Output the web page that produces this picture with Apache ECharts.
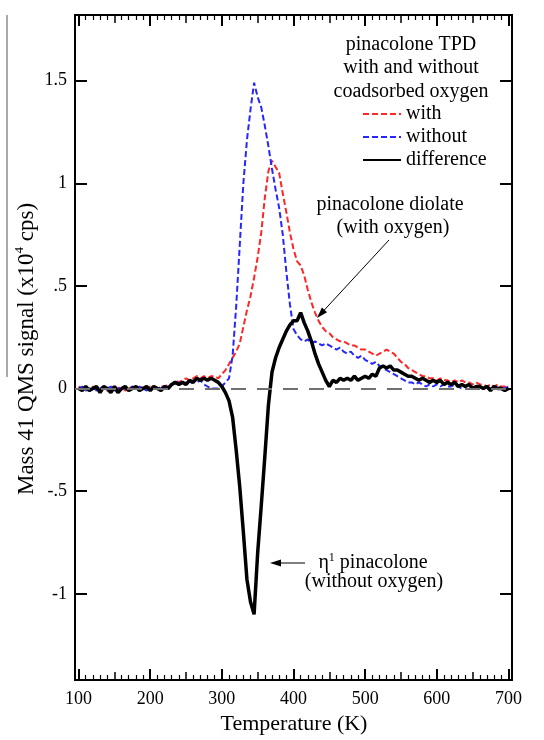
<!DOCTYPE html>
<html><head><meta charset="utf-8">
<script src="https://cdn.jsdelivr.net/npm/echarts@6/dist/echarts.min.js"></script>
<style>html,body{margin:0;padding:0;background:#fff}#c{width:544px;height:740px}</style>
</head><body><div id="c"></div>
<script>
// ---- data (Temperature in K, signal in 10^4 cps) ----
const temperatures = [
100,105,110,115,120,125,130,135,140,145,
150,155,160,165,170,175,180,185,190,195,
200,205,210,215,220,225,230,235,240,245,
250,255,260,265,270,275,280,285,290,295,
300,305,310,315,320,325,330,335,340,345,
350,355,360,365,370,375,380,385,390,395,
400,405,410,415,420,425,430,435,440,445,
450,455,460,465,470,475,480,485,490,495,
500,505,510,515,520,525,530,535,540,545,
550,555,560,565,570,575,580,585,590,595,
600,605,610,615,620,625,630,635,640,645,
650,655,660,665,670,675,680,685,690,695,
700];
const withOxygen = [
0.01,0.00,0.01,-0.01,0.01,0.00,0.00,0.01,-0.01,0.00,
0.01,0.00,0.01,-0.01,0.00,0.01,0.00,0.00,0.01,0.00,
0.01,0.01,0.00,0.01,0.01,0.02,0.02,0.04,0.03,0.04,
0.05,0.04,0.05,0.06,0.05,0.06,0.05,0.06,0.06,0.05,
0.07,0.09,0.12,0.15,0.18,0.22,0.30,0.38,0.45,0.54,
0.64,0.76,0.93,1.06,1.11,1.08,1.05,0.95,0.86,0.76,
0.68,0.62,0.60,0.55,0.48,0.42,0.37,0.33,0.30,0.28,
0.27,0.25,0.24,0.23,0.23,0.22,0.21,0.21,0.20,0.19,
0.19,0.18,0.17,0.16,0.17,0.18,0.19,0.18,0.17,0.15,
0.13,0.12,0.10,0.09,0.08,0.07,0.06,0.06,0.05,0.05,
0.04,0.05,0.04,0.04,0.03,0.04,0.03,0.04,0.03,0.03,
0.02,0.03,0.02,0.02,0.01,0.02,0.01,0.02,0.01,0.01,
0.00];
const withoutOxygen = [
0.00,0.01,-0.01,0.00,0.01,-0.01,0.00,0.01,0.00,0.01,
-0.01,0.00,0.01,0.00,-0.01,0.01,0.00,0.01,0.00,-0.01,
0.01,0.00,0.01,0.00,0.01,0.01,0.02,0.02,0.03,0.02,
0.03,0.02,0.04,0.03,0.04,0.02,0.01,0.00,0.00,0.00,
0.01,0.03,0.05,0.16,0.40,0.70,1.00,1.21,1.36,1.49,
1.42,1.37,1.28,1.18,1.07,0.97,0.88,0.75,0.57,0.41,
0.29,0.26,0.24,0.23,0.24,0.22,0.23,0.22,0.21,0.22,
0.21,0.20,0.19,0.20,0.18,0.17,0.18,0.16,0.15,0.16,
0.14,0.13,0.12,0.13,0.11,0.10,0.09,0.08,0.07,0.06,
0.05,0.04,0.03,0.03,0.02,0.03,0.02,0.01,0.02,0.01,
0.02,0.01,0.02,0.01,0.01,0.02,0.01,0.00,0.01,0.02,
0.01,0.00,0.01,0.00,0.01,0.00,0.01,0.00,0.01,0.00,
0.01];
const difference = [
0.00,-0.01,0.01,-0.01,0.00,0.01,-0.02,0.01,0.00,-0.02,
0.01,-0.02,0.00,0.01,-0.01,0.00,0.01,-0.01,0.00,0.01,
-0.01,0.01,0.00,-0.01,0.01,0.00,0.02,0.03,0.02,0.03,
0.02,0.04,0.03,0.05,0.04,0.05,0.04,0.05,0.04,0.03,
0.01,-0.02,-0.06,-0.14,-0.30,-0.48,-0.70,-0.93,-1.04,-1.10,
-0.80,-0.57,-0.33,-0.08,0.08,0.15,0.20,0.24,0.28,0.31,
0.33,0.33,0.37,0.32,0.28,0.23,0.17,0.12,0.08,0.04,
0.01,0.04,0.03,0.05,0.04,0.05,0.04,0.06,0.04,0.05,
0.06,0.05,0.07,0.06,0.10,0.11,0.10,0.11,0.09,0.09,
0.08,0.07,0.06,0.06,0.05,0.04,0.05,0.04,0.03,0.04,
0.03,0.04,0.02,0.03,0.02,0.03,0.01,0.02,0.01,0.02,
0.00,0.01,0.01,0.00,0.01,-0.01,0.01,0.00,0.00,-0.01,
0.00];
const seriesNames = ['with', 'without', 'difference'];
const xTickLabels = [100, 200, 300, 400, 500, 600, 700];
const xMidTicks = [150, 250, 350, 450, 550, 650];
const yTickLabels = [-1, -0.5, 0, 0.5, 1, 1.5];
const xMinorTicks = [];
for (let t = 110; t < 700; t += 10) if (t % 50 !== 0) xMinorTicks.push(t);

// ---- chart ----
const FONT = 'Liberation Serif';
const X_MIN = 95, X_MAX = 705, Y_MIN = -1.42, Y_MAX = 1.82;
const pair = arr => temperatures.map((t, i) => [t, arr[i]]);

function xAx(pos, ticks, len, withLabels, w) {
  return {
    type: 'value', position: pos, min: X_MIN, max: X_MAX,
    axisLine: { show: true, onZero: false, lineStyle: { color: '#000', width: 2 } },
    splitLine: { show: false },
    axisTick: { show: true, inside: true, length: len, customValues: ticks, lineStyle: { color: '#000', width: w } },
    axisLabel: withLabels ? { show: true, customValues: ticks, fontFamily: FONT, fontSize: 18, color: '#000', margin: 10 } : { show: false }
  };
}
function yAx(pos, withLabels) {
  return {
    type: 'value', position: pos, min: Y_MIN, max: Y_MAX,
    axisLine: { show: true, onZero: false, lineStyle: { color: '#000', width: 2 } },
    splitLine: { show: false },
    axisTick: { show: true, inside: true, length: 12, customValues: yTickLabels, lineStyle: { color: '#000', width: 2 } },
    axisLabel: withLabels ? {
      show: true, customValues: yTickLabels, fontFamily: FONT, fontSize: 18, color: '#000', margin: 8,
      formatter: v => String(v).replace('0.', '.')
    } : { show: false }
  };
}

function arrowHead(x1, y1, x2, y2, len, half) {
  const dx = x2 - x1, dy = y2 - y1, L = Math.hypot(dx, dy);
  const ux = dx / L, uy = dy / L, bx = x2 - ux * len, by = y2 - uy * len;
  return [[x2, y2], [bx - uy * half, by + ux * half], [bx + uy * half, by - ux * half]];
}

const chart = echarts.init(document.getElementById('c'), null, { renderer: 'canvas' });
chart.setOption({
  animation: false,
  backgroundColor: '#fff',
  grid: { left: 75, right: 32, top: 15, bottom: 60, show: false },
  xAxis: [
    xAx('bottom', xTickLabels, 11, true, 2),
    xAx('bottom', xMidTicks, 8, false, 1.5),
    xAx('bottom', xMinorTicks, 5, false, 1.2),
    xAx('top', xTickLabels, 11, false, 2),
    xAx('top', xMidTicks, 8, false, 1.5),
    xAx('top', xMinorTicks, 5, false, 1.2)
  ],
  yAxis: [yAx('left', true), yAx('right', false)],
  legend: {
    orient: 'vertical', left: 362, top: 104, padding: 0, itemWidth: 38, itemHeight: 14, itemGap: 3,
    selectedMode: false, data: seriesNames,
    itemStyle: { opacity: 0 },
    textStyle: { fontFamily: FONT, fontSize: 20, color: '#000', lineHeight: 20 }
  },
  series: [
    {
      name: seriesNames[0], type: 'line', data: pair(withOxygen), symbol: 'none', z: 2,
      lineStyle: { color: '#ff2626', width: 2, type: [6, 3] }, itemStyle: { color: '#ff2626' },
      markLine: {
        silent: true, symbol: 'none', label: { show: false },
        lineStyle: { color: '#707070', width: 2, type: [15, 11] },
        data: [{ yAxis: 0 }]
      }
    },
    {
      name: seriesNames[1], type: 'line', data: pair(withoutOxygen), symbol: 'none', z: 3,
      lineStyle: { color: '#2626ff', width: 2, type: [6, 3] }, itemStyle: { color: '#2626ff' }
    },
    {
      name: seriesNames[2], type: 'line', data: pair(difference), symbol: 'none', z: 4,
      lineStyle: { color: '#000', width: 3.5 }, itemStyle: { color: '#000' }
    }
  ],
  graphic: [
    { type: 'line', shape: { x1: 7, y1: 15, x2: 7, y2: 377 }, style: { stroke: '#8c8c8c', lineWidth: 1.5 } },
    { type: 'text', x: 27, y: 349, rotation: Math.PI / 2,
      style: { text: 'Mass 41 QMS signal (x10{s|4} cps)', font: '23px "Liberation Serif"', fill: '#000',
        align: 'center', verticalAlign: 'middle', lineHeight: 28,
        rich: { s: { fontSize: 13, fontFamily: FONT, verticalAlign: 'top', lineHeight: 14, fill: '#000' } } } },
    { type: 'text', x: 294, y: 724,
      style: { text: 'Temperature (K)', font: '22px "Liberation Serif"', fill: '#000', align: 'center', verticalAlign: 'middle' } },
    { type: 'text', x: 411, y: 45, style: { text: 'pinacolone TPD', font: '20px "Liberation Serif"', fill: '#000', align: 'center', verticalAlign: 'middle' } },
    { type: 'text', x: 411, y: 68, style: { text: 'with and without', font: '20px "Liberation Serif"', fill: '#000', align: 'center', verticalAlign: 'middle' } },
    { type: 'text', x: 411, y: 92, style: { text: 'coadsorbed oxygen', font: '20px "Liberation Serif"', fill: '#000', align: 'center', verticalAlign: 'middle' } },
    { type: 'text', x: 390, y: 205, style: { text: 'pinacolone diolate', font: '20px "Liberation Serif"', fill: '#000', align: 'center', verticalAlign: 'middle' } },
    { type: 'text', x: 393, y: 228, style: { text: '(with oxygen)', font: '20px "Liberation Serif"', fill: '#000', align: 'center', verticalAlign: 'middle' } },
    { type: 'line', shape: { x1: 389, y1: 240, x2: 320, y2: 314.7 }, style: { stroke: '#000', lineWidth: 1 } },
    { type: 'polygon', shape: { points: arrowHead(389, 240, 317, 318, 11, 3.5) }, style: { fill: '#000' } },
    { type: 'text', x: 373, y: 563,
      style: { text: '{a|η}{s|1}{a| pinacolone}', fill: '#000', align: 'center', verticalAlign: 'middle',
        rich: { a: { fontSize: 20, fontFamily: FONT, lineHeight: 22, fill: '#000' },
                s: { fontSize: 12, fontFamily: FONT, lineHeight: 12, verticalAlign: 'top', fill: '#000' } } } },
    { type: 'text', x: 374, y: 582, style: { text: '(without oxygen)', font: '20px "Liberation Serif"', fill: '#000', align: 'center', verticalAlign: 'middle' } },
    { type: 'line', shape: { x1: 305, y1: 563, x2: 278, y2: 563 }, style: { stroke: '#000', lineWidth: 1 } },
    { type: 'polygon', shape: { points: arrowHead(305, 563, 270, 563, 11, 3.5) }, style: { fill: '#000' } }
  ]
});
</script>
</body></html>
